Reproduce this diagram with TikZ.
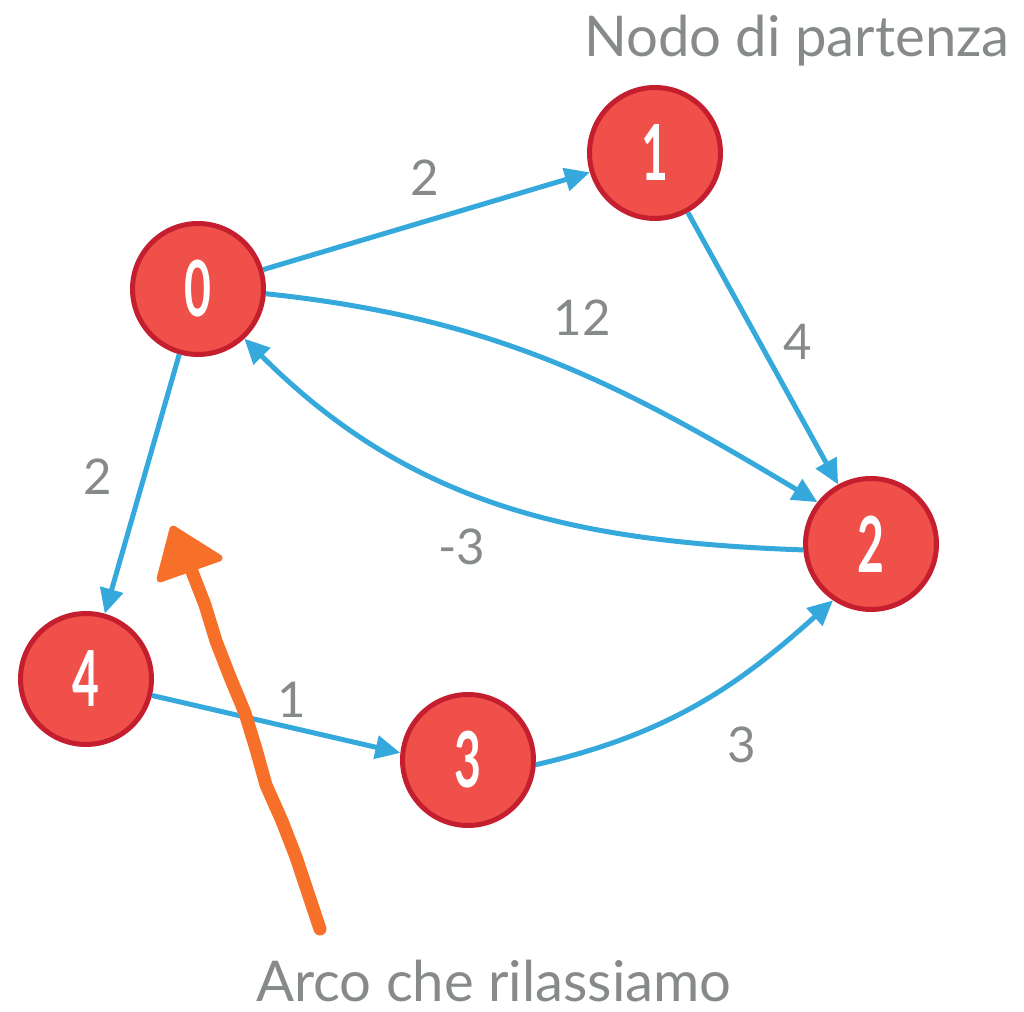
\documentclass[tikz,border=0pt]{standalone}
\usepackage{fontspec}
\setmainfont{Lato}
\usetikzlibrary{positioning,arrows.meta}

\definecolor{vfill}{HTML}{EF5049}
\definecolor{vline}{HTML}{C51F2F}
\definecolor{arcblue}{HTML}{35A8DC}
\definecolor{txtgrey}{HTML}{878A8B}
\definecolor{pen}{HTML}{F7702A}

\begin{document}
\begin{tikzpicture}[%
		x=0.02cm,
		y=0.02cm,
		->,
		>={Triangle[length=0.5cm,width=0.46cm]},
		every edge/.style={draw=arcblue,line width=0.1cm},
		vertex/.style={%
			circle,
			minimum size=2.62cm,
			inner sep=0pt,
			line width=0.1cm,
			draw=vline,
			fill=vfill,
			text=white,
			font=\fontsize{44}{44}\selectfont\bfseries
		},
		weight/.style={%
			text=txtgrey,
			inner sep=0pt,
			font=\fontsize{28}{28}\selectfont
		},
		note/.style={%
			text=txtgrey,
			inner sep=0pt,
			anchor=base,
			text depth=0pt,
			font=\fontsize{32}{32}\selectfont
		}
		]
		\useasboundingbox (0,0) rectangle (1024,1011);

		\node[vertex] (0) at (198,722)                                {\scalebox{0.6}[1]{0}};
		\node[vertex] (1) at (655,858)                                {\scalebox{0.6}[1]{1}};
		\node[vertex] (2) at (871,467)                                {\scalebox{0.6}[1]{2}};
		\node[vertex] (3) at (468,251)                                {\scalebox{0.6}[1]{3}};
		\node[vertex] (4) at (86,332)                                 {\scalebox{0.6}[1]{4}};

		\path (0) edge                   node {} (1)
		(1) edge                   node {} (2)
		(0) edge                   node {} (4)
		(4.-14) edge               node {} (3.174)
		(0.-4) edge [out=-6,in=149]   node {} (2.142)
		(2.185) edge [out=178,in=-45] node {} (0.-47)
		(3.-4) edge [out=13,in=-138]  node {} (2.-124);

		\node[weight] (w01) at (425,833)                              {2};
		\node[weight] (w02) at (582,693)                              {12};
		\node[weight] (w12) at (798,669)                              {4};
		\node[weight] (w04) at (98,534)                               {2};
		\node[weight] (w20) at (462,464)                              {-3};
		\node[weight] (w43) at (292,311)                              {1};
		\node[weight] (w32) at (742,266)                              {3};

		\node[note] (start) at (797,954)                              {Nodo di partenza};
		\node[note] (relax) at (494,10)                               {Arco che rilassiamo};

		% freccia a mano
		\coordinate (tail) at (320,82);
		\coordinate (neck) at (191,442);
		\draw[-, draw=pen, line width=0.26cm, line cap=round, line join=round]
		(tail) -- (308,118) -- (296,154) -- (282,190) -- (266,226) -- (256,262) -- (245,298)
		-- (230,334) -- (216,370) -- (205,406) -- (neck);
		\draw[-, draw=pen, fill=pen, line width=0.14cm, line join=round]
		(173,482) -- (160,432) -- (219,453) -- cycle;
		\end{tikzpicture}
\end{document}
